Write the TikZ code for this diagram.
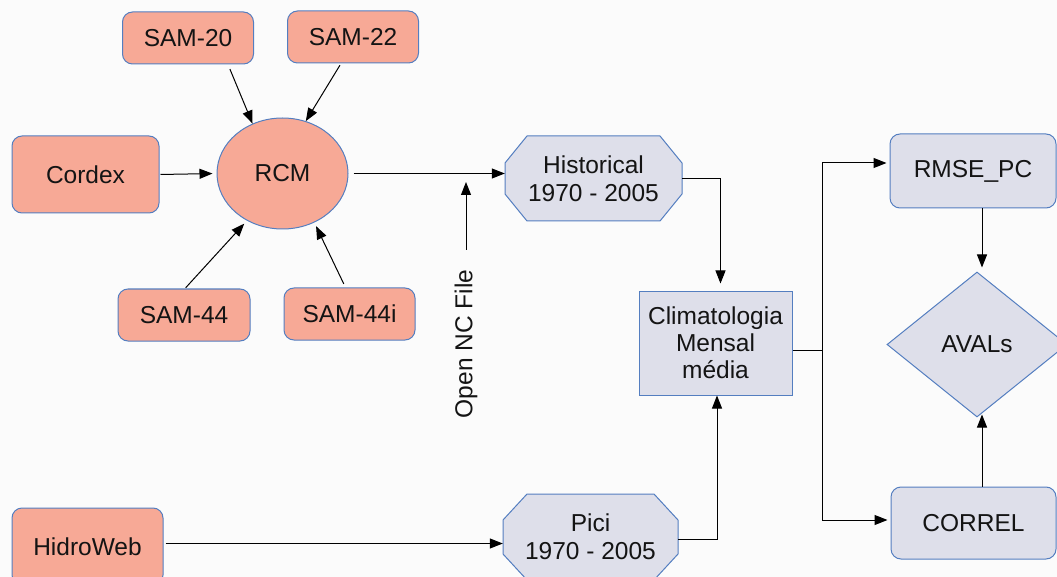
\documentclass[tikz,border=0pt]{standalone}
\usepackage{fontspec}
\setmainfont{Liberation Sans}
\usetikzlibrary{shapes.geometric,arrows.meta,calc}
\definecolor{salmon}{RGB}{247,169,150}
\definecolor{grayblue}{RGB}{222,223,234}
\definecolor{bord}{RGB}{84,126,192}
\definecolor{bgc}{RGB}{251,251,251}
\definecolor{txt}{RGB}{20,20,20}
\tikzset{
  base/.style={draw=bord,line width=1pt,text=txt,font=\fontsize{24.5}{27}\selectfont,align=center,inner sep=0pt},
  redbox/.style={base,fill=salmon,rounded corners=10pt},
  graybox/.style={base,fill=grayblue,rounded corners=10pt},
  clbox/.style={base,fill=grayblue},
  octfill/.style={draw=bord,line width=1pt,fill=grayblue},
  octtext/.style={text=txt,font=\fontsize{24.5}{28}\selectfont,align=center,inner sep=0pt},
  arr/.style={draw=black,line width=1pt,-{Triangle[length=13pt,width=10pt]}},
  plain/.style={draw=black,line width=1pt}
}
\begin{document}
\begin{tikzpicture}[x=1pt,y=-1pt]
\useasboundingbox (0,0) rectangle (1057,577);
\clip (0,0) rectangle (1057,577);
\fill[bgc] (0,0) rectangle (1057,577);

% left cluster
\node[redbox,minimum width=131pt,minimum height=52pt] (sam20) at (188,38) {SAM-20};
\node[redbox,minimum width=131pt,minimum height=52pt] (sam22) at (353,37) {SAM-22};
\node[redbox,minimum width=147pt,minimum height=77pt] (cordex) at (85.5,174.5) {Cordex};
\node[base,fill=salmon,ellipse,minimum width=131pt,minimum height=111pt] (rcm) at (282.5,173.5) {RCM};
\node[redbox,minimum width=132pt,minimum height=52pt] (sam44) at (184,315) {SAM-44};
\node[redbox,minimum width=131pt,minimum height=52pt] (sam44i) at (349.5,314) {SAM-44i};
\node[redbox,minimum width=151pt,minimum height=77pt] (hidro) at (87.5,546.5) {HidroWeb};

% octagons
\path[octfill] (505,163)--(527,136)--(660,136)--(682,163)--(682,194)--(660,221)--(527,221)--(505,194)--cycle;
\node[octtext,minimum width=177pt,minimum height=85pt] (hist) at (593.5,178.5) {Historical\\1970 - 2005};
\path[octfill] (503,520)--(527,494)--(654,494)--(678,520)--(678,554)--(654,580)--(527,580)--(503,554)--cycle;
\node[octtext,minimum width=175pt,minimum height=86pt] (pici) at (590.5,537) {Pici\\1970 - 2005};

% Open NC File
\node[octtext,rotate=90] (nc) at (466,344) {Open NC File};
\coordinate (nctip) at (466,182);

% middle and right
\node[clbox,minimum width=153pt,minimum height=104pt] (clim) at (715.5,343) {Climatologia\\Mensal\\média};
\node[graybox,minimum width=166pt,minimum height=74pt] (rmse) at (973,171) {RMSE\_PC};
\node[graybox,minimum width=165pt,minimum height=72pt] (correl) at (973.5,523) {CORREL};
\node[base,fill=grayblue,diamond,minimum width=180pt,minimum height=145pt] (avals) at (977,344.5) {AVALs};

% connectors
\draw[arr,shorten <=5pt] ([xshift=40pt]sam20.south) -- (rcm.121);
\draw[arr,shorten <=2pt] ([xshift=-12pt]sam22.south) -- (rcm.66);
\draw[arr,shorten <=1pt,shorten >=4pt] (cordex.east) -- (rcm.west);
\draw[arr,shorten <=1pt,shorten >=4pt] ([xshift=1pt]sam44.north) -- (rcm.233);
\draw[arr,shorten <=4pt,shorten >=4pt] ([xshift=-4pt]sam44i.north) -- (rcm.303);
\draw[arr,shorten <=5pt] (rcm.east) -- (rcm.east -| hist.west);
\draw[arr,shorten <=20pt] (nc.east) -- (nctip);
\draw[arr,shorten >=7pt] (hist.east) -| ([xshift=5pt]clim.north);
\draw[arr] ([yshift=-2pt]pici.east) -| ([xshift=1.5pt]clim.south);
\draw[arr,shorten <=2pt] ([yshift=3pt]hidro.east) -- ([yshift=3pt]hidro.east -| pici.west);
\coordinate (split) at (822,350);
\draw[plain] ([yshift=-7pt]clim.east) -- (split);
\draw[arr,shorten >=3pt] (split) |- ([yshift=8pt]rmse.west);
\draw[arr,shorten >=3pt] (split) |- ([yshift=3pt]correl.west);
\draw[arr,shorten >=4pt] ([xshift=9pt]rmse.south) -- ([xshift=9pt]rmse.south |- avals.north);
\draw[arr,shorten >=-3pt] ([xshift=8.5pt]correl.north) -- ([xshift=8.5pt]correl.north |- avals.south);
\end{tikzpicture}
\end{document}
